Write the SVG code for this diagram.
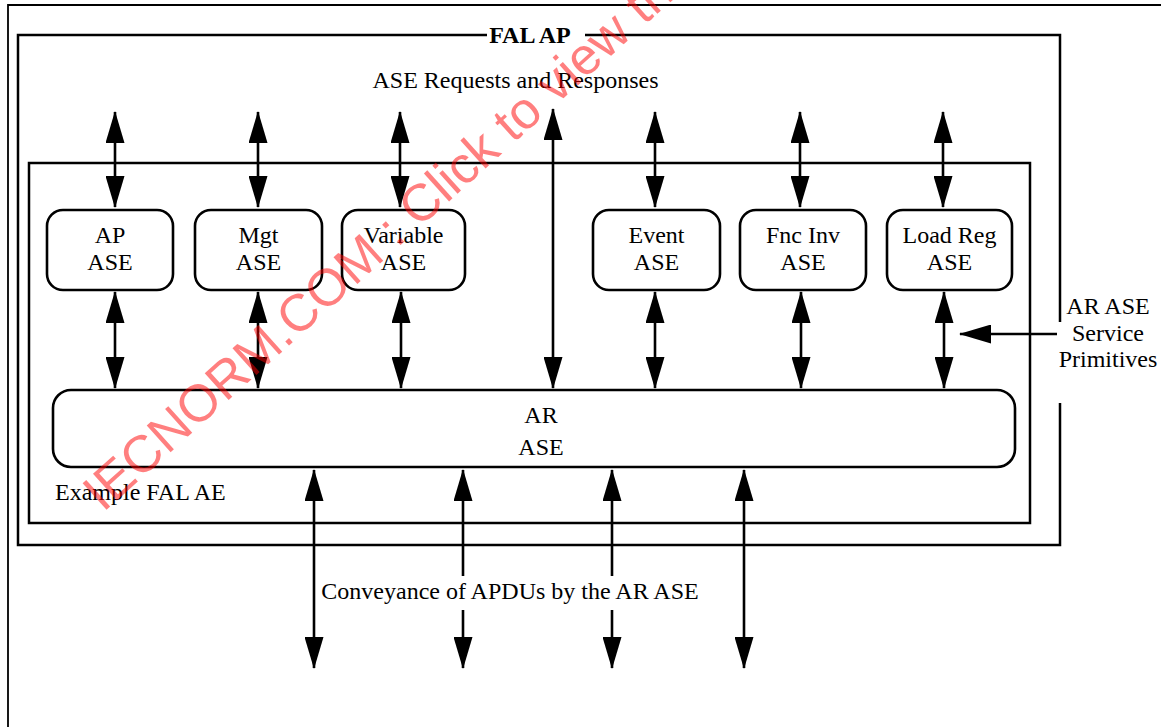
<svg xmlns="http://www.w3.org/2000/svg" width="1161" height="727" viewBox="0 0 1161 727">
  <style>
    .t { font-family: "Liberation Serif", "Times New Roman", serif; font-size: 24px; fill: #000; }
    .b { font-weight: bold; }
    .frame { fill: none; stroke: #000; stroke-width: 2.5; }
    .box { fill: #fff; stroke: #000; stroke-width: 2.6; }
    .conn line { stroke: #000; stroke-width: 2.6; }
    .wm { font-family: "Liberation Sans", Arial, sans-serif; font-size: 52px; fill: #ff0000; fill-opacity: 0.5; }
  </style>
  <defs>
    <marker id="ah" viewBox="0 0 32 19" markerWidth="32" markerHeight="19" refX="31" refY="9.5"
            orient="auto-start-reverse" markerUnits="userSpaceOnUse">
      <path d="M0,0 L32,9.5 L0,19 z" fill="#000"/>
    </marker>
  </defs>

  <rect width="1161" height="727" fill="#fff"/>

  <!-- page border -->
  <path d="M8,727 V5 H1161" fill="none" stroke="#000" stroke-width="1.8"/>

  <!-- FAL AP container, right edge opened for the side label -->
  <g id="fal-ap">
    <path class="frame" d="M1060,322 V35 H18 V545 H1060 V403"/>
    <rect x="487" y="29" width="98" height="12" fill="#fff"/>
    <text class="t b" x="530" y="43" text-anchor="middle">FAL AP</text>
    <text class="t" x="515.5" y="88" text-anchor="middle">ASE Requests and Responses</text>
  </g>

  <!-- Example FAL AE container -->
  <g id="fal-ae">
    <rect class="frame" x="29" y="163" width="1001" height="360"/>
    <text class="t" x="55" y="500">Example FAL AE</text>
  </g>

  <g id="ap-ase">
    <rect class="box" x="47" y="210" width="126" height="80" rx="16"/>
    <text class="t" x="110" y="243" text-anchor="middle">AP</text>
    <text class="t" x="110" y="270" text-anchor="middle">ASE</text>
  </g>
  <g id="mgt-ase">
    <rect class="box" x="195" y="210" width="127" height="80" rx="16"/>
    <text class="t" x="258.5" y="243" text-anchor="middle">Mgt</text>
    <text class="t" x="258.5" y="270" text-anchor="middle">ASE</text>
  </g>
  <g id="variable-ase">
    <rect class="box" x="342" y="210" width="123" height="80" rx="16"/>
    <text class="t" x="403.5" y="243" text-anchor="middle">Variable</text>
    <text class="t" x="403.5" y="270" text-anchor="middle">ASE</text>
  </g>
  <g id="event-ase">
    <rect class="box" x="593" y="210" width="127" height="80" rx="16"/>
    <text class="t" x="656.5" y="243" text-anchor="middle">Event</text>
    <text class="t" x="656.5" y="270" text-anchor="middle">ASE</text>
  </g>
  <g id="fnc-inv-ase">
    <rect class="box" x="740" y="210" width="126" height="80" rx="16"/>
    <text class="t" x="803" y="243" text-anchor="middle">Fnc Inv</text>
    <text class="t" x="803" y="270" text-anchor="middle">ASE</text>
  </g>
  <g id="load-reg-ase">
    <rect class="box" x="887" y="210" width="125" height="80" rx="16"/>
    <text class="t" x="949.5" y="243" text-anchor="middle">Load Reg</text>
    <text class="t" x="949.5" y="270" text-anchor="middle">ASE</text>
  </g>

  <g id="ar-ase">
    <rect class="box" x="53" y="390" width="962" height="77" rx="18"/>
    <text class="t" x="541" y="423" text-anchor="middle">AR</text>
    <text class="t" x="541" y="455" text-anchor="middle">ASE</text>
  </g>

  <g id="service-primitives">
    <text class="t" x="1108" y="314" text-anchor="middle">AR ASE</text>
    <text class="t" x="1108" y="341" text-anchor="middle">Service</text>
    <text class="t" x="1108" y="367" text-anchor="middle">Primitives</text>
  </g>

  <g id="apdu-label">
    <text class="t" x="510" y="599" text-anchor="middle">Conveyance of APDUs by the AR ASE</text>
  </g>

  <g id="connectors" class="conn">
    <!-- requests / responses into each ASE -->
    <line x1="115" y1="112" x2="115" y2="207" marker-start="url(#ah)" marker-end="url(#ah)"/>
    <line x1="258" y1="112" x2="258" y2="207" marker-start="url(#ah)" marker-end="url(#ah)"/>
    <line x1="400" y1="112" x2="400" y2="207" marker-start="url(#ah)" marker-end="url(#ah)"/>
    <line x1="655" y1="112" x2="655" y2="207" marker-start="url(#ah)" marker-end="url(#ah)"/>
    <line x1="800" y1="112" x2="800" y2="207" marker-start="url(#ah)" marker-end="url(#ah)"/>
    <line x1="943" y1="112" x2="943" y2="207" marker-start="url(#ah)" marker-end="url(#ah)"/>
    <!-- ASE to AR ASE -->
    <line x1="115" y1="292" x2="115" y2="388" marker-start="url(#ah)" marker-end="url(#ah)"/>
    <line x1="258" y1="292" x2="258" y2="388" marker-start="url(#ah)" marker-end="url(#ah)"/>
    <line x1="401" y1="292" x2="401" y2="388" marker-start="url(#ah)" marker-end="url(#ah)"/>
    <line x1="655" y1="292" x2="655" y2="388" marker-start="url(#ah)" marker-end="url(#ah)"/>
    <line x1="801" y1="292" x2="801" y2="388" marker-start="url(#ah)" marker-end="url(#ah)"/>
    <line x1="944" y1="292" x2="944" y2="388" marker-start="url(#ah)" marker-end="url(#ah)"/>
    <!-- direct AR ASE access -->
    <line x1="553" y1="109" x2="553" y2="388" marker-start="url(#ah)" marker-end="url(#ah)"/>
    <!-- APDU conveyance -->
    <line x1="314" y1="470" x2="314" y2="668" marker-start="url(#ah)" marker-end="url(#ah)"/>
    <line x1="463" y1="470" x2="463" y2="576" marker-start="url(#ah)"/>
    <line x1="463" y1="610" x2="463" y2="668" marker-end="url(#ah)"/>
    <line x1="612" y1="470" x2="612" y2="576" marker-start="url(#ah)"/>
    <line x1="612" y1="610" x2="612" y2="668" marker-end="url(#ah)"/>
    <line x1="744" y1="470" x2="744" y2="668" marker-start="url(#ah)" marker-end="url(#ah)"/>
    <!-- service primitives pointer -->
    <line x1="1057" y1="334" x2="960" y2="334" marker-end="url(#ah)"/>
  </g>

  <g id="watermark">
    <text class="wm" transform="translate(103,513) rotate(-42)">IECNORM.COM : Click to view the</text>
  </g>
</svg>
